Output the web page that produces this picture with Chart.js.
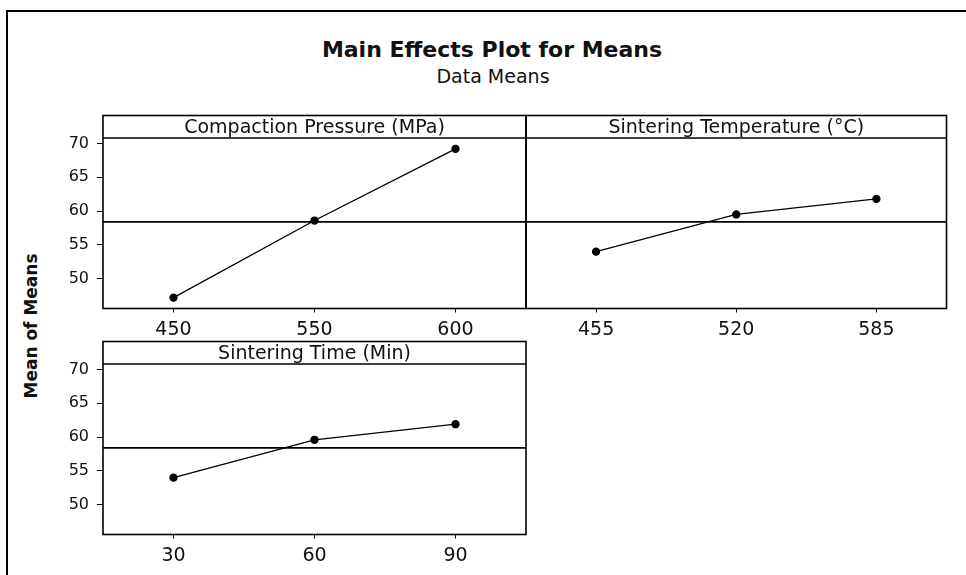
<!DOCTYPE html>
<html>
<head>
<meta charset="utf-8">
<script src="https://cdn.jsdelivr.net/npm/chart.js@4.4.1/dist/chart.umd.min.js"></script>
<style>
  body { margin: 0; background: #fff; font-family: "DejaVu Sans", sans-serif; }
  #wrap { position: relative; width: 966px; height: 575px; overflow: hidden; }
  #frame { position: absolute; left: 6px; top: 10px; width: 1000px; height: 600px; border: 2px solid #000; }
  .txt { position: absolute; color: #111; white-space: nowrap; }
  #title { left: 0; width: 984px; top: 37px; text-align: center; font-weight: bold; font-size: 22px; }
  #subtitle { left: 0; width: 986px; top: 65px; text-align: center; font-size: 19px; }
  #ytitle { left: 31px; top: 326px; transform: translate(-50%, -50%) rotate(-90deg); font-weight: bold; font-size: 17px; }
  canvas { position: absolute; }
</style>
</head>
<body>
<div id="wrap">
  <div id="frame"></div>
  <div class="txt" id="title">Main Effects Plot for Means</div>
  <div class="txt" id="subtitle">Data Means</div>
  <div class="txt" id="ytitle">Mean of Means</div>
  <canvas id="cpChart" width="540" height="250" style="left:0px;top:100px"></canvas>
  <canvas id="stChart" width="446" height="250" style="left:520px;top:100px"></canvas>
  <canvas id="timeChart" width="540" height="249" style="left:0px;top:326px"></canvas>
</div>
<script>
// Niveles y medias de cada factor
const cpLevels = ["450", "550", "600"];
const cpMeans = [47.2, 58.6, 69.2];
const stLevels = ["455", "520", "585"];
const stMeans = [54.0, 59.5, 61.8];
const timeLevels = ["30", "60", "90"];
const timeMeans = [54.0, 59.6, 61.9];
const yTicks = [50, 55, 60, 65, 70];
const grandMean = 58.4;

const headerH = 22.5;

// caja del panel, cabecera y linea de la media general
const panelBox = {
  id: "panelBox",
  beforeDatasetsDraw(chart, args, opts) {
    const ctx = chart.ctx;
    const a = chart.chartArea;
    const ym = chart.scales.y.getPixelForValue(grandMean);
    ctx.save();
    ctx.strokeStyle = "#000";
    ctx.lineWidth = 1.6;
    ctx.beginPath();
    ctx.moveTo(a.left, ym);
    ctx.lineTo(a.right, ym);
    ctx.moveTo(a.left, a.top);
    ctx.lineTo(a.right, a.top);
    ctx.stroke();
    ctx.strokeRect(a.left, a.top - headerH, a.right - a.left, a.bottom - a.top + headerH);
    ctx.fillStyle = "#111";
    ctx.font = '19px "DejaVu Sans"';
    ctx.textAlign = "center";
    ctx.textBaseline = "middle";
    ctx.fillText(opts.title, (a.left + a.right) / 2, a.top - headerH / 2 + 1);
    ctx.restore();
  },
};

function makePanel(id, labels, values, title, showY, padLeft, padRight) {
  const canvas = document.getElementById(id);
  const h = canvas.height;
  return new Chart(canvas.getContext("2d"), {
    type: "line",
    data: {
      labels: labels,
      datasets: [
        {
          data: values,
          borderColor: "#000",
          borderWidth: 1.3,
          pointRadius: 3.5,
          pointBackgroundColor: "#000",
          pointBorderColor: "#000",
          tension: 0,
        },
      ],
    },
    options: {
      responsive: false,
      animation: false,
      layout: { padding: { top: 38, left: padLeft, right: padRight, bottom: 0 } },
      plugins: {
        legend: { display: false },
        tooltip: { enabled: false },
        panelBox: { title: title },
      },
      scales: {
        x: {
          offset: true,
          grid: { offset: false, drawOnChartArea: false, drawTicks: true, tickLength: 4, color: "#000" },
          border: { display: false },
          ticks: { color: "#111", font: { family: "DejaVu Sans", size: 19 }, padding: 6, maxRotation: 0 },
          afterFit: (s) => { s.height = h - 208.5; },
        },
        y: {
          display: showY,
          min: 45.6,
          max: 70.8,
          grid: { drawOnChartArea: false, drawTicks: true, tickLength: 6, color: "#000" },
          border: { display: false },
          ticks: { color: "#111", font: { family: "DejaVu Sans", size: 16 }, padding: 8 },
          afterBuildTicks: (s) => { s.ticks = yTicks.map((v) => ({ value: v })); },
          afterFit: (s) => { s.width = showY ? 103 : 0; },
        },
      },
    },
    plugins: [panelBox],
  });
}

makePanel("cpChart", cpLevels, cpMeans, "Compaction Pressure (MPa)", true, 0, 14);
makePanel("stChart", stLevels, stMeans, "Sintering Temperature (°C)", false, 6, 19.5);
makePanel("timeChart", timeLevels, timeMeans, "Sintering Time (Min)", true, 0, 14);
</script>
</body>
</html>
